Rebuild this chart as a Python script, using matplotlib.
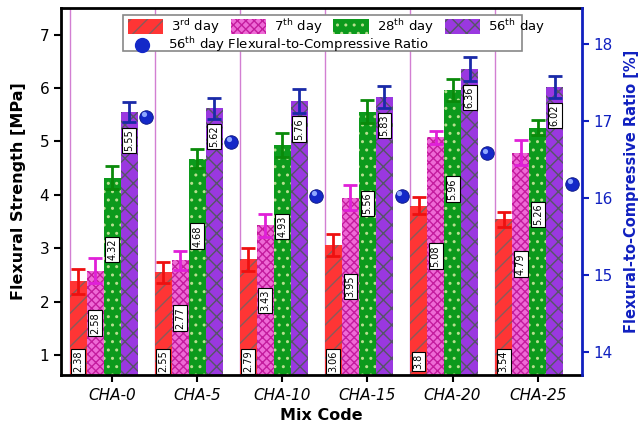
import matplotlib
matplotlib.use("Agg")
import matplotlib.pyplot as plt
import numpy as np
from matplotlib.patches import Rectangle
from matplotlib.lines import Line2D
import matplotlib.transforms as mtransforms

plt.rcParams['font.family'] = ['DejaVu Sans']
plt.rcParams['hatch.linewidth'] = 1.0

mixes = ["CHA-0", "CHA-5", "CHA-10", "CHA-15", "CHA-20", "CHA-25"]
day3 = [2.38, 2.55, 2.79, 3.06, 3.80, 3.54]
day7 = [2.58, 2.77, 3.43, 3.95, 5.08, 4.79]
day28 = [4.32, 4.68, 4.93, 5.56, 5.96, 5.26]
day56 = [5.55, 5.62, 5.76, 5.83, 6.36, 6.02]
err3 = [0.23, 0.20, 0.22, 0.20, 0.16, 0.14]
err7 = [0.24, 0.17, 0.22, 0.23, 0.12, 0.23]
err28 = [0.22, 0.18, 0.23, 0.21, 0.21, 0.14]
err56 = [0.18, 0.20, 0.23, 0.20, 0.23, 0.20]
ratio56 = [17.05, 16.73, 16.03, 16.03, 16.58, 16.18]
label3 = ["2.38", "2.55", "2.79", "3.06", "3.8", "3.54"]
label7 = ["2.58", "2.77", "3.43", "3.95", "5.08", "4.79"]
label28 = ["4.32", "4.68", "4.93", "5.56", "5.96", "5.26"]
label56 = ["5.55", "5.62", "5.76", "5.83", "6.36", "6.02"]

fig = plt.figure(figsize=(6.43, 4.29), dpi=100)
ax = fig.add_axes([61/643, 1-375/429, (582-61)/643, (375-8)/429])
ylo, yhi = 0.625, 7.5
ax.set_ylim(ylo, yhi)
ax.set_xlim(-0.6, 5.52)

x = np.arange(len(mixes))
w = 0.2

for xv in np.arange(-0.5, 5.0, 1.0):
    ax.axvline(xv, color='#d27fd2', lw=1.0, zorder=0)

series = [
    (day3, err3, label3, '#ff3535', '#8a5a5a', '//', '#ee1010', -2, "3$^{\\rm rd}$ day"),
    (day7, err7, label7, '#ee6ad6', '#c41c9e', 'xxxx', '#e020d8', -1, "7$^{\\rm th}$ day"),
    (day28, err28, label28, '#0c9a1c', '#b8e090', '..', '#0a8a0a', 0, "28$^{\\rm th}$ day"),
    (day56, err56, label56, '#9a38e0', '#555566', 'xx', '#1a2aa8', 1, "56$^{\\rm th}$ day"),
]
bar_handles = []
for vals, errs, labs, fc, hc, hatch, ec, off, name in series:
    b = ax.bar(x + off*w, np.array(vals) - ylo, w, bottom=ylo, color=fc,
               edgecolor=hc, hatch=hatch, linewidth=0, zorder=2, label=name)
    bar_handles.append(b)
    ax.errorbar(x + off*w, vals, yerr=errs, fmt='none', ecolor=ec,
                elinewidth=2, capsize=5, capthick=2, zorder=4)

# value label boxes
bbox = dict(boxstyle='square,pad=0.2', fc='white', ec='black', lw=0.8)
for i in range(len(mixes)):
    ax.text(x[i]-2*w, 0.88, label3[i], rotation=90, ha='center', va='center',
            fontsize=7, bbox=bbox, zorder=5)
    ax.text(x[i]-w, (ylo+day7[i])/2, label7[i], rotation=90, ha='center', va='center',
            fontsize=7, bbox=bbox, zorder=5)
    ax.text(x[i], day28[i]*0.69, label28[i], rotation=90, ha='center', va='center',
            fontsize=7, bbox=bbox, zorder=5)
    ax.text(x[i]+w, day56[i]-0.53, label56[i], rotation=90, ha='center', va='center',
            fontsize=7, bbox=bbox, zorder=5)

ax.set_yticks([1, 2, 3, 4, 5, 6, 7])
ax.set_xticks(x)
ax.set_xticklabels(mixes, fontsize=11, style='italic')
ax.tick_params(axis='y', labelsize=11, direction='out', length=5, width=1.5)
ax.tick_params(axis='x', direction='out', length=5, width=1.5, pad=4)
for s in ['left', 'bottom', 'top']:
    ax.spines[s].set_linewidth(2)
ax.spines['right'].set_visible(False)
ax.set_ylabel("Flexural Strength [MPa]", fontsize=11.5, fontweight='bold', labelpad=10)
ax.set_xlabel("Mix Code", fontsize=11.5, fontweight='bold', labelpad=4)

ax2 = ax.twinx()
ax2.set_ylim(13.70, 18.47)
ax2.set_yticks([14, 15, 16, 17, 18])
ax2.tick_params(axis='y', colors='#1020c0', labelsize=11, direction='out', length=5, width=1.5)
for s in ['left', 'bottom', 'top']:
    ax2.spines[s].set_visible(False)
ax2.spines['right'].set_color('#1020c0')
ax2.spines['right'].set_linewidth(2)
ax2.set_ylabel("Flexural-to-Compressive Ratio [%]", fontsize=10.5, fontweight='bold',
               color='#1020c0', labelpad=8)
ax2.scatter(x + 2*w, ratio56, s=95, color='#1428c8', edgecolors='#0a1480',
            linewidths=0.6, zorder=6)
hl = mtransforms.offset_copy(ax2.transData, fig=fig, x=-1.5, y=2, units='points')
ax2.scatter(x + 2*w, ratio56, s=14, color='#8fa8ff', transform=hl, zorder=7,
            linewidths=0)

# legend
ax2.add_patch(Rectangle((0.119, 0.883), 0.766, 0.098, transform=ax2.transAxes,
                        facecolor='white', edgecolor='#888888', lw=1.2, zorder=8))
leg1 = ax2.legend(bar_handles, [s[-1] for s in series], ncol=4, frameon=False,
                  loc='upper left', bbox_to_anchor=(0.118, 0.99), fontsize=9.5,
                  handlelength=2.7, handleheight=1.3, columnspacing=0.8,
                  handletextpad=0.6, borderaxespad=0)
leg1.set_zorder(9)
ax2.add_artist(leg1)
dot = Line2D([], [], marker='o', color='#1428c8', markersize=10, linestyle='none')
leg2 = ax2.legend([dot], ["56$^{\\rm th}$ day Flexural-to-Compressive Ratio"], frameon=False,
                  loc='upper left', bbox_to_anchor=(0.112, 0.94), fontsize=9.5,
                  handlelength=2.7, handletextpad=0.6, borderaxespad=0)
leg2.set_zorder(9)

fig.savefig("out.png", dpi=100)
